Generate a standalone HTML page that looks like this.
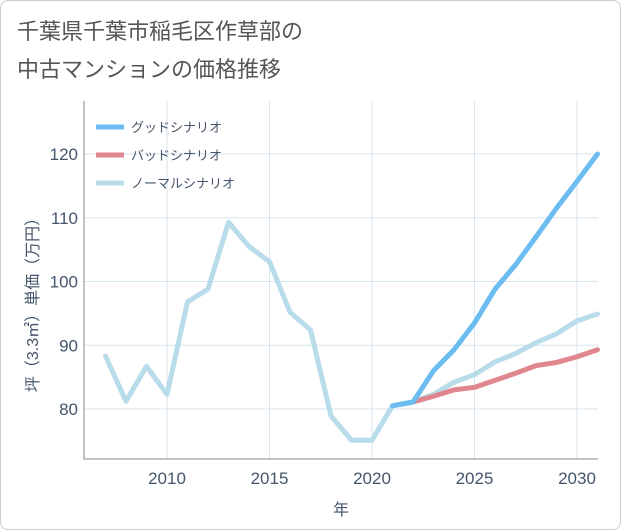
<!DOCTYPE html>
<html><head><meta charset="utf-8"><style>
body{margin:0;background:#fff;}
.wrap{position:relative;width:619px;height:528px;border:1px solid #ccc;border-radius:8px;background:#fff;overflow:hidden;font-family:"Liberation Sans","Noto Sans CJK JP",sans-serif;}
.title{position:absolute;left:16px;top:12px;font-size:22px;line-height:38px;color:#555;}
</style></head><body>
<div class="wrap">
<div class="title">千葉県千葉市稲毛区作草部の<br>中古マンションの価格推移</div>
<svg id="chart" width="621" height="530" style="position:absolute;left:0;top:0"></svg>
</div>
<script>
const years=[2007,2008,2009,2010,2011,2012,2013,2014,2015,2016,2017,2018,2019,2020,2021,2022,2023,2024,2025,2026,2027,2028,2029,2030,2031];
const normalVals=[88.3,81.2,86.7,82.3,96.8,98.8,109.3,105.5,103.1,95.2,92.4,78.9,75.1,75.1,80.5,81.1,82.3,84.2,85.4,87.4,88.7,90.4,91.8,93.8,94.9];
const goodYears=[2021,2022,2023,2024,2025,2026,2027,2028,2029,2030,2031];
const goodVals=[80.5,81.1,86.0,89.3,93.5,98.8,102.6,107.0,111.5,115.7,120.0];
const badYears=[2022,2023,2024,2025,2026,2027,2028,2029,2030,2031];
const badVals=[81.1,82.0,83.0,83.4,84.5,85.6,86.8,87.3,88.2,89.3];
const xTicks=[2010,2015,2020,2025,2030];
const yTicks=[80,90,100,110,120];
const legendLabels=["グッドシナリオ","バッドシナリオ","ノーマルシナリオ"];
const legendColors=["#6bbcf0","#e0868e","#b8dcea"];

const svg=document.getElementById('chart');
const NS='http://www.w3.org/2000/svg';
const TXT='#44556b';
const L=83,R=597,T=100,B=458;
const xS=y=>166+(y-2010)*(576-166)/20;
const yS=v=>408-(v-80)*(408-153)/40;
function mk(t,a){const e=document.createElementNS(NS,t);for(const k in a)e.setAttribute(k,a[k]);svg.appendChild(e);return e;}
for(const t of xTicks){const g=mk('line',{x1:xS(t),x2:xS(t),y1:T,y2:B,stroke:'#d6e6ee','stroke-width':1});


const tx=mk('text',{x:xS(t),y:B+25,'text-anchor':'middle','font-size':17,fill:TXT});tx.textContent=t;

}
for(const t of yTicks){const g=mk('line',{x1:L,x2:R,y1:yS(t),y2:yS(t),stroke:'#d6e6ee','stroke-width':1});


const tx=mk('text',{x:L-6,y:yS(t)+6,'text-anchor':'end','font-size':17,fill:TXT});tx.textContent=t;

}
const ax=mk('path',{d:`M${L} ${T}V${B}H${R}`,stroke:'#888',fill:'none','stroke-width':1});


function line(xs,vs,c,name){const p=mk('polyline',{points:xs.map((x,i)=>xS(x)+','+yS(vs[i])).join(' '),fill:'none',stroke:c,'stroke-width':5,'stroke-linejoin':'round','stroke-linecap':'round'});

}
line(years,normalVals,legendColors[2],'normal-scenario-line');
line(badYears,badVals,legendColors[1],'bad-scenario-line');
line(goodYears,goodVals,legendColors[0],'good-scenario-line');
legendLabels.forEach((lb,i)=>{const y=126+i*28;
const l=mk('line',{x1:95,x2:123,y1:y,y2:y,stroke:legendColors[i],'stroke-width':5});


const t=mk('text',{x:130,y:y+5,'font-size':13,fill:TXT});t.textContent=lb;

});
const xt=mk('text',{x:340,y:514,'text-anchor':'middle','font-size':16,fill:TXT});xt.textContent='年';


const yt=mk('text',{x:0,y:0,'text-anchor':'middle','font-size':16,fill:TXT,transform:'translate(37,300) rotate(-90)'});yt.textContent='坪（3.3㎡）単価（万円）';


</script>
</body></html>
